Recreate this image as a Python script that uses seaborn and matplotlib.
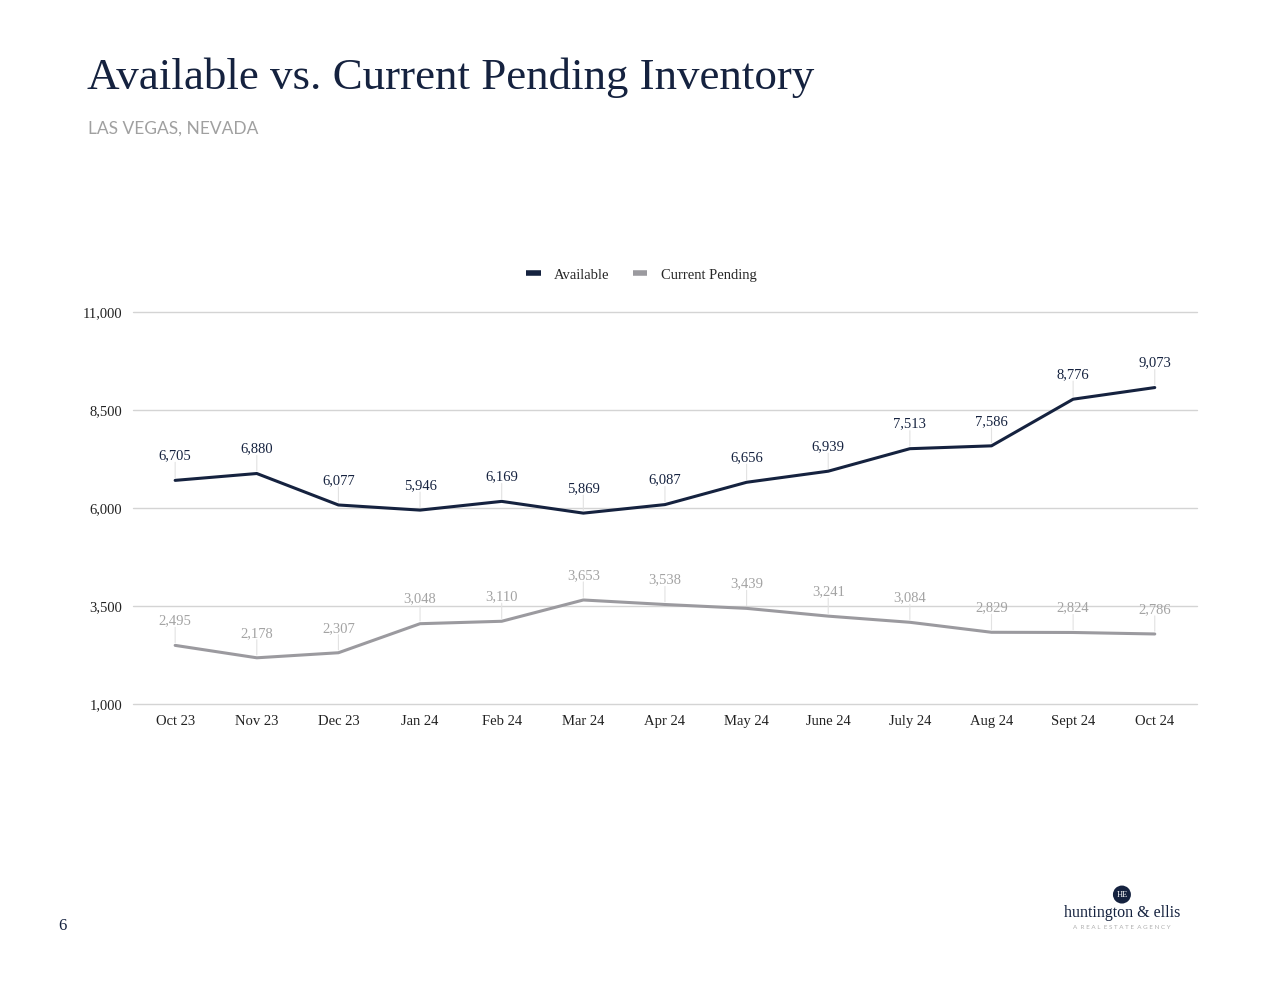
"""Available vs current pending inventory, Las Vegas"""

import pandas as pd
import matplotlib.pyplot as plt
import seaborn as sns
from matplotlib.patches import Ellipse

months = ["Oct 23", "Nov 23", "Dec 23", "Jan 24", "Feb 24", "Mar 24", "Apr 24",
          "May 24", "June 24", "July 24", "Aug 24", "Sept 24", "Oct 24"]
available = [6705, 6880, 6077, 5946, 6169, 5869, 6087, 6656, 6939, 7513, 7586, 8776, 9073]
pending = [2495, 2178, 2307, 3048, 3110, 3653, 3538, 3439, 3241, 3084, 2829, 2824, 2786]
y_ticks = [1000, 3500, 6000, 8500, 11000]

NAVY = "#15223f"
GREY = "#9b9a9f"
LABEL_GREY = "#a3a3a3"

sns.set_theme(style="white")
plt.rcParams["font.family"] = ["Liberation Serif", "DejaVu Serif"]

df = pd.DataFrame({
    "month": months * 2,
    "x": list(range(len(months))) * 2,
    "value": available + pending,
    "series": ["Available"] * len(months) + ["Current Pending"] * len(months),
})

fig = plt.figure(figsize=(12.8, 9.89), dpi=100)
ax = fig.add_axes([0.104, 0.2882, 0.831, 0.3963])

sns.lineplot(data=df, x="x", y="value", hue="series",
             palette={"Available": NAVY, "Current Pending": GREY},
             linewidth=2.2, ax=ax, legend=False)

ax.set_xlim(-0.515, len(months) - 1 + 0.515)
ax.set_ylim(1000, 11000)
ax.set_yticks(y_ticks)
ax.set_yticklabels([f"{v:,}" for v in y_ticks], fontsize=10.5, color="#222222")
ax.set_xticks(range(len(months)))
ax.set_xticklabels(months, fontsize=10.5, color="#222222")
ax.tick_params(axis="both", length=0, pad=8)
ax.set_xlabel("")
ax.set_ylabel("")
ax.yaxis.grid(True, color="#d4d4d4", linewidth=1, clip_on=False)
for s in ax.spines.values():
    s.set_visible(False)

# value labels with thin leader lines
for vals, tc in [(available, NAVY), (pending, LABEL_GREY)]:
    for i, v in enumerate(vals):
        ax.annotate(f"{v:,}", xy=(i, v), xytext=(0, 13), textcoords="offset points",
                    ha="center", va="bottom", fontsize=10.5, color=tc)
        ax.annotate("", xy=(i, v), xytext=(0, 13), textcoords="offset points",
                    arrowprops=dict(arrowstyle="-", color="#e2e2e2", lw=0.8,
                                    shrinkA=0, shrinkB=2))

# legend
handles = [plt.Line2D([], [], color=NAVY, lw=4, solid_capstyle="butt"),
           plt.Line2D([], [], color=GREY, lw=4, solid_capstyle="butt")]
fig.legend(handles, ["Available", "Current Pending"], loc="center",
           bbox_to_anchor=(0.501, 0.722), ncol=2, frameon=False, fontsize=10.5,
           handlelength=1.0, columnspacing=1.6, handletextpad=0.9)

# header
fig.text(0.068, 0.921, "Available vs. Current Pending Inventory", fontsize=32.4,
         color=NAVY, va="center", ha="left")
fig.text(0.069, 0.870, "LAS VEGAS, NEVADA", fontsize=12.5, color="#a0a0a0",
         family=["Lato", "DejaVu Sans"], va="center", ha="left")

# page number and logo
fig.text(0.049, 0.064, "6", fontsize=12, color=NAVY, va="center", ha="center")
fig.patches.append(Ellipse((0.8765, 0.0955), 18 / 1280, 18 / 989,
                           transform=fig.transFigure, facecolor=NAVY, edgecolor="none"))
fig.text(0.8765, 0.0955, "HE", fontsize=6, color="white", ha="center", va="center")
fig.text(0.8765, 0.0770, "huntington & ellis", fontsize=11.5, color=NAVY,
         ha="center", va="center")
fig.text(0.8765, 0.0625, "A  R E A L  E S T A T E  A G E N C Y", fontsize=4.5,
         color="#b0b0b0", ha="center", va="center", family=["Lato", "DejaVu Sans"])

fig.savefig("out.png", dpi=100)
